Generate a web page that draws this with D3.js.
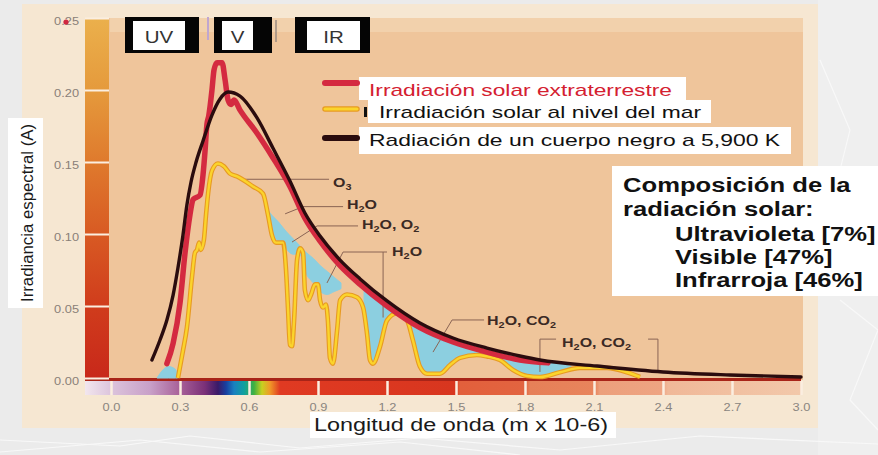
<!DOCTYPE html>
<html><head><meta charset="utf-8">
<script src="https://cdn.jsdelivr.net/npm/d3@7/dist/d3.min.js"></script>
<style>body{margin:0;background:#ebebeb;overflow:hidden}svg{display:block}</style>
</head><body><svg id="c" width="878" height="455"></svg>
<script>
// ---------------- DATA ----------------
const xTicks = [0.0, 0.3, 0.6, 0.9, 1.2, 1.5, 1.8, 2.1, 2.4, 2.7, 3.0];
const yTicks = [0.00, 0.05, 0.10, 0.15, 0.20, 0.25];
const bandLabels = ["UV", "V", "IR"];
const legendLabels = ["Irradiación solar extraterrestre", "Irradiación solar al nivel del mar", "Radiación de un cuerpo negro a 5,900 K"];
const compositionLines = ["Composición de la", "radiación solar:", "Ultravioleta [7%]", "Visible [47%]", "Infrarroja [46%]"];
const xTitle = "Longitud de onda (m x 10-6)";
const yTitle = "Irradiancia espectral (A)";

// black body 5900 K  [wavelength, irradiance]
const blackBody = [[0.178,0.0125],[0.213,0.0264],[0.243,0.0403],[0.270,0.0576],[0.291,0.0764],[0.313,0.0993],[0.330,0.1201],[0.348,0.1361],[0.370,0.1500],[0.400,0.1646],[0.439,0.1826],[0.474,0.1938],[0.509,0.1986],[0.561,0.1958],[0.635,0.1806],[0.704,0.1597],[0.778,0.1368],[0.843,0.1146],[0.909,0.0986],[0.996,0.0819],[1.083,0.0688],[1.200,0.0535],[1.343,0.0382],[1.487,0.0278],[1.635,0.0208],[1.778,0.0153],[1.865,0.0125],[2.113,0.0083],[2.400,0.0042],[2.691,0.0021],[3.0,0.0007]];
// extraterrestrial irradiance
const extraterrestrial = [[0.243,0.010],[0.270,0.024],[0.300,0.052],[0.322,0.087],[0.343,0.113],[0.357,0.124],[0.387,0.127],[0.400,0.141],[0.409,0.158],[0.417,0.176],[0.425,0.182],[0.439,0.200],[0.448,0.214],[0.461,0.219],[0.483,0.219],[0.496,0.207],[0.509,0.193],[0.522,0.190],[0.535,0.193],[0.561,0.186],[0.635,0.170],[0.704,0.153],[0.778,0.133],[0.843,0.111],[0.909,0.095],[0.996,0.078],[1.083,0.065],[1.2,0.050],[1.343,0.035],[1.487,0.025],[1.635,0.018],[1.778,0.0125],[1.900,0.0105]];
// sea level irradiance
const seaLevel = [[0.291,0.0],[0.313,0.019],[0.330,0.035],[0.352,0.070],[0.365,0.087],[0.374,0.089],[0.383,0.094],[0.391,0.089],[0.404,0.096],[0.413,0.113],[0.422,0.128],[0.439,0.144],[0.465,0.149],[0.491,0.147],[0.517,0.142],[0.548,0.140],[0.617,0.133],[0.661,0.128],[0.683,0.113],[0.700,0.099],[0.717,0.094],[0.748,0.094],[0.761,0.075],[0.770,0.047],[0.778,0.023],[0.787,0.022],[0.796,0.040],[0.809,0.082],[0.822,0.090],[0.835,0.087],[0.843,0.061],[0.857,0.054],[0.870,0.058],[0.887,0.065],[0.900,0.065],[0.909,0.054],[0.922,0.049],[0.935,0.051],[0.943,0.040],[0.952,0.014],[0.965,0.010],[0.983,0.033],[0.996,0.054],[1.026,0.058],[1.070,0.056],[1.096,0.049],[1.113,0.031],[1.126,0.0125],[1.139,0.010],[1.170,0.022],[1.200,0.040],[1.243,0.045],[1.287,0.040],[1.313,0.026],[1.343,0.008],[1.374,0.003],[1.430,0.003],[1.474,0.009],[1.517,0.014],[1.591,0.016],[1.635,0.015],[1.691,0.0125],[1.748,0.0056],[1.809,0.0014],[1.865,0.0007],[1.952,0.004],[2.039,0.007],[2.157,0.007],[2.243,0.004],[2.300,0.0007]];
// absorption (cyan) regions: [wavelength, top, bottom]
const absorptionUV = [[0.20,0.0,0.0],[0.25,0.008,0.0],[0.28,0.006,0.0],[0.29,0.0,0.0]];
const absorptionVis = [[0.68,0.117,0.113],[0.70,0.113,0.100],[0.73,0.108,0.095],[0.76,0.102,0.090],[0.79,0.097,0.086],[0.82,0.092,0.086],[0.85,0.087,0.072],[0.88,0.083,0.066],[0.91,0.078,0.060],[0.94,0.074,0.058],[0.97,0.070,0.060],[1.00,0.066,0.062]];
const absorptionIR = [[1.10,0.064,0.047],[1.13,0.061,0.011],[1.17,0.057,0.022],[1.20,0.053,0.040],[1.243,0.048,0.045],[1.287,0.044,0.040],[1.313,0.041,0.026],[1.343,0.038,0.008],[1.374,0.035,0.003],[1.43,0.031,0.003],[1.474,0.028,0.009],[1.517,0.025,0.014],[1.591,0.021,0.016],[1.635,0.019,0.015],[1.691,0.017,0.0125],[1.748,0.015,0.0056],[1.809,0.013,0.0014],[1.865,0.012,0.0007],[1.952,0.010,0.004],[2.00,0.008,0.006]];
// absorber annotations: label, label anchor [wl, v], leader polylines
const annotations = [
  {label:"O_3", at:[0.965,0.1326], lines:[[[0.574,0.138],[0.948,0.138]]]},
  {label:"H_2O", at:[1.026,0.1174], lines:[[[0.757,0.114],[0.835,0.119],[1.009,0.119]]]},
  {label:"H_2O, O_2", at:[1.091,0.1035], lines:[[[0.787,0.0944],[0.896,0.1056],[1.074,0.1056]]]},
  {label:"H_2O", at:[1.222,0.0847], lines:[[[0.939,0.066],[1.009,0.0875],[1.20,0.0875]],[[1.183,0.0875],[1.183,0.042]]]},
  {label:"H_2O, CO_2", at:[1.635,0.0368], lines:[[[1.40,0.018],[1.483,0.0403],[1.622,0.0403]]]},
  {label:"H_2O, CO_2", at:[1.961,0.0215], lines:[[[1.865,0.0042],[1.865,0.027],[1.935,0.027]],[[2.335,0.027],[2.378,0.027],[2.378,0.0042]]]}
];

// ---------------- DRAW ----------------
const svg = d3.select("#c");
const FONT = "'Liberation Sans', Arial, Helvetica, sans-serif";
const STRETCH = 1.28; // the source picture is horizontally stretched
function stretch(sel){
  sel.each(function(){
    const w = this.getComputedTextLength();
    d3.select(this).attr("textLength", w*STRETCH).attr("lengthAdjust","spacingAndGlyphs");
  });
}
const x = d3.scaleLinear().domain([0, 3]).range([111, 801]);
const y = d3.scaleLinear().domain([0, 0.25]).range([378, 18]);
const defs = svg.append("defs");

// page background with faint slide lines
svg.append("rect").attr("width",878).attr("height",455).attr("fill","#ebebeb");
svg.append("rect").attr("x",818).attr("width",60).attr("height",455).attr("fill","#efefef");
const deco = [[[0,440],[120,446],[190,436],[300,448],[420,438],[560,450],[700,436],[878,444]],
              [[0,452],[140,440],[260,452],[400,442],[520,455]],
              [[820,60],[850,130],[830,210],[878,260]],[[840,300],[878,330],[850,400],[878,430]]];
svg.selectAll(".deco").data(deco).join("path").attr("d", d3.line()).attr("fill","none")
  .attr("stroke","#f8f8f8").attr("stroke-width",1.2);

// scanned picture area
svg.append("rect").attr("x",22).attr("y",4).attr("width",796).attr("height",424).attr("fill","#f6e7d2");
svg.append("rect").attr("x",85).attr("y",18).attr("width",718).attr("height",362).attr("fill","#efc59b");
svg.append("rect").attr("x",110).attr("y",18).attr("width",693).attr("height",14).attr("fill","#f2d1ac");

// left color bar
const lg = defs.append("linearGradient").attr("id","lbar").attr("x1",0).attr("x2",0).attr("y1",0).attr("y2",1);
[["0%","#ebb04c"],["20%","#e59a3c"],["40%","#df7a2d"],["60%","#d85a23"],["80%","#d03c1c"],["100%","#c8281a"]]
  .forEach(s=>lg.append("stop").attr("offset",s[0]).attr("stop-color",s[1]));
svg.append("rect").attr("x",85).attr("y",18).attr("width",24).attr("height",361).attr("fill","url(#lbar)");

// bottom spectrum band
const bg = defs.append("linearGradient").attr("id","bband").attr("gradientUnits","userSpaceOnUse")
  .attr("x1",85).attr("x2",801).attr("y1",0).attr("y2",0);
const bstops = [[85,"#f2e6ee"],[111,"#dcc4dc"],[150,"#c8a0c8"],[180,"#a86098"],[205,"#7a3078"],[218,"#3a1a68"],[226,"#1840a0"],[234,"#1a80c0"],[244,"#10a0a0"],[254,"#40b040"],[262,"#c8d020"],[270,"#f09828"],[280,"#e03a22"],[455,"#d8361f"],[460,"#e2603c"],[525,"#e26440"],[530,"#e68058"],[595,"#e8845c"],[600,"#eca07c"],[662,"#eea482"],[668,"#f0b898"],[801,"#f2c8aa"]];
bstops.forEach(s=>bg.append("stop").attr("offset",((s[0]-85)/716*100)+"%").attr("stop-color",s[1]));
svg.append("rect").attr("x",85).attr("y",381).attr("width",716).attr("height",14).attr("fill","url(#bband)");
svg.append("rect").attr("x",85).attr("y",378).attr("width",716).attr("height",3).attr("fill","#a82418");

// faint remnant separators at top
svg.append("line").attr("x1",208).attr("x2",208).attr("y1",17).attr("y2",40).attr("stroke","#c0a6d0").attr("stroke-width",2);
svg.append("line").attr("x1",276).attr("x2",276).attr("y1",20).attr("y2",42).attr("stroke","#9a8a80").attr("stroke-width",1.5);

// axes
const yAxis = svg.append("g").attr("transform","translate(109,0)")
  .call(d3.axisLeft(y).tickValues(yTicks).tickFormat(d3.format(".2f")).tickSize(24).tickPadding(6));
yAxis.select(".domain").remove();
yAxis.selectAll("line").attr("stroke","#fbeee0").attr("stroke-width",2);
yAxis.selectAll("text").attr("font-family",FONT).attr("font-size",10).attr("fill","#8a7f78").attr("dy","0.62em").call(stretch);
const xAxis = svg.append("g").attr("transform","translate(0,381)")
  .call(d3.axisBottom(x).tickValues(xTicks).tickFormat(d3.format(".1f")).tickSize(14).tickPadding(9));
xAxis.select(".domain").remove();
xAxis.selectAll("line").attr("stroke","#fbeee0").attr("stroke-width",2.5);
xAxis.selectAll("text").attr("font-family",FONT).attr("font-size",10).attr("fill","#8a8580").call(stretch);
// red smudge on top label
svg.append("circle").attr("cx",66).attr("cy",22).attr("r",2.6).attr("fill","#d02840");

// absorption areas
const area = d3.area().x(d=>x(d[0])).y0(d=>y(d[2])).y1(d=>y(d[1])).curve(d3.curveMonotoneX);
svg.selectAll(".abs").data([absorptionUV, absorptionVis, absorptionIR]).join("path")
  .attr("d", area).attr("fill","#8ccfe0").attr("stroke","#8ccfe0").attr("stroke-width",1);

// leaders
const lineP = d3.line().x(d=>x(d[0])).y(d=>y(d[1]));
annotations.forEach(a=>{
  a.lines.forEach(l=>svg.append("path").attr("d",lineP(l)).attr("fill","none").attr("stroke","#8a6454").attr("stroke-width",1));
});

// curves
const curve = d3.line().x(d=>x(d[0])).y(d=>y(d[1])).curve(d3.curveMonotoneX);
svg.append("path").datum(seaLevel).attr("d",curve).attr("fill","none").attr("stroke","#e79a22").attr("stroke-width",4.6).attr("stroke-linejoin","round");
svg.append("path").datum(seaLevel).attr("d",curve).attr("fill","none").attr("stroke","#fbd42c").attr("stroke-width",2.4).attr("stroke-linejoin","round");
svg.append("path").datum(extraterrestrial).attr("d",curve).attr("fill","none").attr("stroke","#d42a40").attr("stroke-width",5.5).attr("stroke-linejoin","round").attr("stroke-linecap","round");
svg.append("path").datum(blackBody).attr("d",curve).attr("fill","none").attr("stroke","#2a0c0e").attr("stroke-width",3.4).attr("stroke-linecap","round");

// annotation labels with subscripts
annotations.forEach(a=>{
  const g = svg.append("g").attr("transform",`translate(${x(a.at[0])},${y(a.at[1])}) scale(${STRETCH},1)`);
  const t = g.append("text").attr("font-family",FONT).attr("font-weight","bold").attr("font-size",12.5).attr("fill","#3b2a24");
  a.label.split(/_(\d)/).forEach((part,i)=>{
    if(!part) return;
    if(i%2===1) t.append("tspan").attr("font-size",8.5).attr("dy",3).text(part);
    else {
      const ts = t.append("tspan").text(part);
      if(i>0) ts.attr("dy",-3);
    }
  });
});

// band boxes UV / V / IR
const bandBoxes = [[125,199,133,185],[214,272,222,253],[295,370,307,360]];
bandLabels.forEach((lab,i)=>{
  const b = bandBoxes[i];
  svg.append("rect").attr("x",b[0]).attr("y",17).attr("width",b[1]-b[0]).attr("height",36).attr("fill","#050505");
  svg.append("rect").attr("x",b[2]).attr("y",21).attr("width",b[3]-b[2]).attr("height",29).attr("fill","#ffffff");
  svg.append("text").attr("x",(b[2]+b[3])/2).attr("y",43).attr("text-anchor","middle")
    .attr("font-family",FONT).attr("font-size",16).attr("fill","#333").text(lab).call(stretch);
});

// legend
const legendRows = [
  {box:[359,77,327,23], tx:369, ty:96, w:303, color:"#d42030", sw:"#d42a40"},
  {box:[368,100,343,23], tx:379, ty:118, w:322, color:"#111", sw:"#f0c020"},
  {box:[359,127,432,27], tx:369, ty:146, w:411, color:"#111", sw:"#2a0c0e"}
];
const legendY = [83,109,138];
legendLabels.forEach((lab,i)=>{
  const r = legendRows[i];
  svg.append("rect").attr("x",r.box[0]).attr("y",r.box[1]).attr("width",r.box[2]).attr("height",r.box[3]).attr("fill","#fff");
  if(i===1){
    svg.append("line").attr("x1",325).attr("x2",357).attr("y1",legendY[i]).attr("y2",legendY[i]).attr("stroke","#e79a22").attr("stroke-width",5.5).attr("stroke-linecap","round");
    svg.append("line").attr("x1",325).attr("x2",357).attr("y1",legendY[i]).attr("y2",legendY[i]).attr("stroke","#fbd42c").attr("stroke-width",3).attr("stroke-linecap","round");
    svg.append("rect").attr("x",364).attr("y",107).attr("width",3).attr("height",10).attr("fill","#111");
  } else {
    svg.append("line").attr("x1",325).attr("x2",357).attr("y1",legendY[i]).attr("y2",legendY[i]).attr("stroke",r.sw).attr("stroke-width",6).attr("stroke-linecap","round");
  }
  svg.append("text").attr("x",r.tx).attr("y",r.ty).attr("font-family",FONT).attr("font-size",17)
    .attr("fill",r.color).attr("textLength",r.w).attr("lengthAdjust","spacingAndGlyphs").text(lab);
});

// composition box
svg.append("rect").attr("x",612).attr("y",166).attr("width",266).attr("height",130).attr("fill","#fff");
const compPos = [[623,192],[623,216],[675,241],[675,264],[675,287]];
compositionLines.forEach((l,i)=>{
  svg.append("text").attr("x",compPos[i][0]).attr("y",compPos[i][1]).attr("font-family",FONT)
    .attr("font-weight","bold").attr("font-size",20).attr("fill","#111").text(l).call(stretch);
});

// axis titles
svg.append("rect").attr("x",310).attr("y",412).attr("width",306).attr("height",26).attr("fill","#fff");
svg.append("text").attr("x",314).attr("y",431).attr("font-family",FONT).attr("font-size",18).attr("fill","#1a1a1a")
  .attr("textLength",294).attr("lengthAdjust","spacingAndGlyphs").text(xTitle);
svg.append("rect").attr("x",8).attr("y",118).attr("width",35).attr("height",190).attr("fill","#fff");
svg.append("text").attr("transform","translate(33,302) rotate(-90)").attr("font-family",FONT).attr("font-size",16)
  .attr("fill","#1a1a1a").attr("textLength",178).attr("lengthAdjust","spacingAndGlyphs").text(yTitle);
</script></body></html>
